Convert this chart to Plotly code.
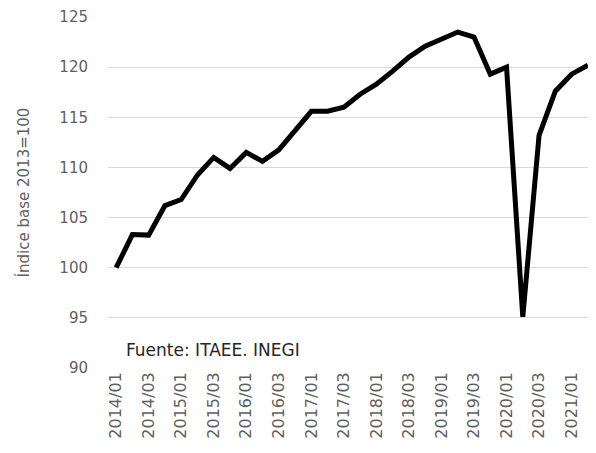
import plotly.graph_objects as go

years = [2014, 2015, 2016, 2017, 2018, 2019, 2020, 2021]
periods = [f"{y}/0{q}" for y in years for q in (1, 2, 3, 4)][:30]

itaee = [
    100.0, 103.3, 103.25, 106.2, 106.8, 109.25, 111.0, 109.9,
    111.5, 110.6, 111.75, 113.6, 115.6, 115.6, 116.0, 117.3,
    118.3, 119.6, 121.0, 122.1, 122.8, 123.5, 123.0, 119.3,
    120.0, 95.1, 113.2, 117.6, 119.3, 120.2,
]

tick_periods = [p for p in periods if p.endswith("/01") or p.endswith("/03")]

FONT = "DejaVu Sans"
GRAY = "#5f5f5f"

fig = go.Figure(go.Scatter(
    x=periods, y=itaee,
    mode="lines",
    line=dict(color="#000000", width=5),
    hovertemplate="%{x}: %{y:.1f}<extra></extra>",
))

fig.add_annotation(
    text="Fuente: ITAEE. INEGI",
    xref="paper", yref="paper", x=0.033, y=0.05,
    xanchor="left", yanchor="middle", showarrow=False,
    font=dict(family=FONT, size=17, color="#262626"),
)

# page body adds an 8px offset, so the figure is sized a bit smaller
fig.update_layout(
    width=588, height=445,
    margin=dict(t=9, b=85, l=100, r=0),
    plot_bgcolor="white", paper_bgcolor="white",
    showlegend=False,
    font=dict(family=FONT, color=GRAY),
    xaxis=dict(
        type="category",
        range=[-0.5, 29.5],
        tickmode="array",
        tickvals=tick_periods,
        ticktext=tick_periods,
        tickangle=-90,
        tickfont=dict(size=16, color=GRAY),
        showgrid=False, zeroline=False, showline=False,
        ticks="", automargin=False,
    ),
    yaxis=dict(
        range=[90, 125],
        dtick=5,
        tickfont=dict(size=15, color=GRAY),
        gridcolor="#d9d9d9", gridwidth=1,
        zeroline=False, showline=False,
        ticks="", ticklabelstandoff=19, automargin=False,
        title=dict(text="Índice base 2013=100", font=dict(size=15, color=GRAY), standoff=26),
    ),
)

fig.write_html("out.html")
